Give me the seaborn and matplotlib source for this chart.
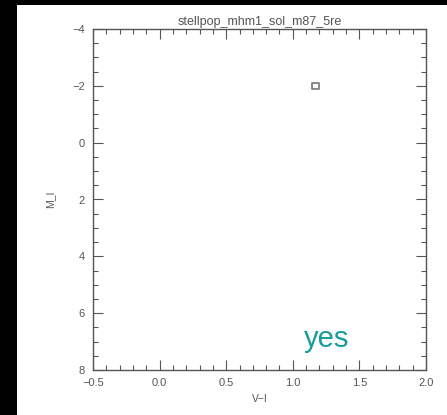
import matplotlib
matplotlib.use("Agg")
import matplotlib.pyplot as plt
from matplotlib.patches import Rectangle
from matplotlib.ticker import MultipleLocator
import seaborn as sns
import pandas as pd

# Colour-magnitude data
v_minus_i = [1.17]
m_i = [-2.0]
title = "stellpop_mhm1_sol_m87_5re"
x_ticks = [-0.5, 0.0, 0.5, 1.0, 1.5, 2.0]
y_ticks = [-4, -2, 0, 2, 4, 6, 8]

df = pd.DataFrame({"V-I": v_minus_i, "M_I": m_i})

sns.set_style("ticks")
plt.rcParams["font.family"] = ["Liberation Sans", "DejaVu Sans"]
ink = "#555555"

fig = plt.figure(figsize=(4.47, 4.15), dpi=100)
fig.patch.set_facecolor("white")
# dark frame strips along the left and top edges
fig.add_artist(Rectangle((0, 0), 17 / 447, 1, transform=fig.transFigure,
                         facecolor="black", edgecolor="none", zorder=0))
fig.add_artist(Rectangle((0, 1 - 5 / 415), 1, 5 / 415, transform=fig.transFigure,
                         facecolor="black", edgecolor="none", zorder=0))

ax = fig.add_axes([93 / 447, 1 - 370 / 415, (426 - 93) / 447, (370 - 29) / 415])
sns.scatterplot(data=df, x="V-I", y="M_I", ax=ax, marker="s", s=22,
                facecolor="none", edgecolor="#777777", linewidth=1.2, legend=False)

ax.set_xlim(-0.5, 2.0)
ax.set_ylim(8, -4)
ax.set_xticks(x_ticks)
ax.set_xticklabels([f"{t:.1f}".replace("-", "\u2212") for t in x_ticks])
ax.set_yticks(y_ticks)
ax.set_yticklabels([str(t).replace("-", "\u2212") for t in y_ticks])
ax.xaxis.set_minor_locator(MultipleLocator(0.1))
ax.yaxis.set_minor_locator(MultipleLocator(0.5))
ax.tick_params(which="both", direction="in", top=True, right=True,
               bottom=True, left=True, labeltop=False, labelright=False,
               colors=ink, labelcolor=ink, width=0.8, labelsize=8)
ax.tick_params(which="major", length=7, pad=6)
ax.tick_params(which="minor", length=3.5)
for sp in ax.spines.values():
    sp.set_visible(True)
    sp.set_color(ink)
    sp.set_linewidth(1.0)

ax.set_xlabel("V\u2212I", color=ink, fontsize=7.5, labelpad=4)
ax.set_ylabel("M_I", color=ink, fontsize=7.5, labelpad=12)
ax.set_title(title, color=ink, fontsize=9, pad=3)
ax.text(0.70, 0.067, "yes", transform=ax.transAxes, color="#159c9c",
        fontsize=21, ha="center", va="baseline")

fig.savefig("out.png", dpi=100, facecolor=fig.get_facecolor())
